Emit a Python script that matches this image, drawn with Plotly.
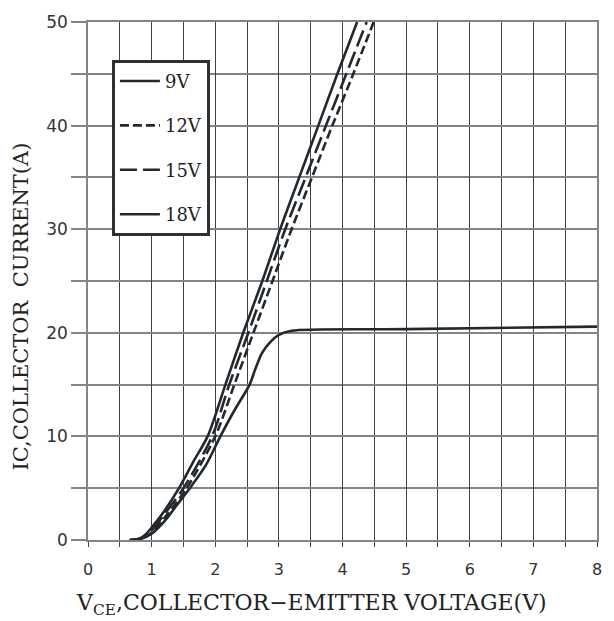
import plotly.graph_objects as go

# ---- data ----
v9_x = [0.66, 0.85, 1.0, 1.2, 1.4, 1.6, 1.85, 2.08, 2.3, 2.54, 2.63, 2.73, 2.85, 3.0, 3.2, 5.0, 8.0]
v9_y = [0.0, 0.15, 0.6, 1.8, 3.4, 5.0, 7.2, 10.0, 12.5, 15.0, 16.5, 18.0, 19.0, 19.8, 20.2, 20.35, 20.6]

v12_x = [0.70, 0.85, 1.0, 1.25, 1.55, 2.0, 2.3, 2.6, 2.9, 3.2, 3.52, 3.84, 4.17, 4.49]
v12_y = [0.0, 0.15, 0.7, 2.5, 5.0, 10.0, 15.0, 20.0, 25.0, 30.0, 35.0, 40.0, 45.0, 50.0]

v15_x = [0.68, 0.85, 1.0, 1.2, 1.5, 1.95, 2.22, 2.52, 2.81, 3.1, 3.42, 3.74, 4.06, 4.38]
v15_y = [0.0, 0.2, 0.9, 2.5, 5.0, 10.0, 15.0, 20.0, 25.0, 30.0, 35.0, 40.0, 45.0, 50.0]

v18_x = [0.65, 0.8, 0.9, 1.0, 1.2, 1.43, 1.65, 1.88, 2.16, 2.44, 2.74, 3.02, 3.32, 3.62, 3.92, 4.23]
v18_y = [0.0, 0.1, 0.5, 1.2, 2.8, 5.0, 7.5, 10.0, 15.0, 20.0, 25.0, 30.0, 35.0, 40.0, 45.0, 50.0]

series_names = ["9V", "12V", "15V", "18V"]

x_tickvals = [0, 1, 2, 3, 4, 5, 6, 7, 8]
x_ticktext = ["0", "1", "2", "3", "4", "5", "6", "7", "8"]
x_minorvals = [0.5, 1.5, 2.5, 3.5, 4.5, 5.5, 6.5, 7.5]
y_tickvals = [0, 10, 20, 30, 40, 50]
y_ticktext = ["0", "10", "20", "30", "40", "50"]
y_minorvals = [5, 15, 25, 35, 45]

x_title = "V<sub>CE</sub>,COLLECTOR\u2212EMITTER VOLTAGE(V)"
y_title = "IC,COLLECTOR  CURRENT(A)"

LINE = "#23282d"
SERIF = "DejaVu Serif, Liberation Serif, serif"
SANS = "DejaVu Sans, Liberation Sans, sans-serif"
VGRID = "#3d4247"
HGRID = "#80858a"

fig = go.Figure()
data = [(v9_x, v9_y, "solid"), (v12_x, v12_y, "9px,4px"),
        (v15_x, v15_y, "17px,6px"), (v18_x, v18_y, "solid")]
for name, (xs, ys, dash) in zip(series_names, data):
    fig.add_trace(go.Scatter(
        x=xs, y=ys, mode="lines", name=name, legendgroup=name,
        line=dict(color=LINE, width=2.6, dash=dash, shape="spline", smoothing=0.8),
    ))

fig.update_layout(
    width=614, height=621,
    margin=dict(l=88, r=13, t=22, b=81),
    paper_bgcolor="white", plot_bgcolor="white",
    showlegend=True,
    legend=dict(
        x=0.047, y=0.927, xanchor="left", yanchor="top",
        bordercolor="#2b3035", borderwidth=3, bgcolor="white",
        font=dict(family=SERIF, size=18, color="#222"),
        tracegroupgap=18, itemwidth=40,
    ),
    annotations=[
        dict(text=x_title, xref="paper", yref="paper",
             x=(313 - 88) / 513, y=-(604 - 540) / 518,
             xanchor="center", yanchor="middle", showarrow=False,
             font=dict(family=SERIF, size=22, color="#222")),
        dict(text=y_title, xref="paper", yref="paper",
             x=(20 - 88) / 513, y=(540 - 307) / 518,
             xanchor="center", yanchor="middle", showarrow=False, textangle=-90,
             font=dict(family=SERIF, size=21, color="#222")),
    ],
)

fig.update_xaxes(
    range=[0, 8], tickvals=x_tickvals, ticktext=x_ticktext,
    showgrid=True, gridcolor=VGRID, gridwidth=1.3,
    ticks="outside", ticklen=5, tickcolor=VGRID, tickwidth=1.3,
    ticklabelstandoff=9,
    minor=dict(tickvals=x_minorvals, ticks="outside", ticklen=5, tickcolor=VGRID,
               tickwidth=1.3, showgrid=True, gridcolor=VGRID, gridwidth=1.3),
    tickfont=dict(family=SANS, size=16, color="#333"),
    showline=True, linecolor=HGRID, linewidth=1.5, mirror=True,
    zeroline=False,
)
fig.update_yaxes(
    range=[0, 50], tickvals=y_tickvals, ticktext=y_ticktext,
    showgrid=True, gridcolor=HGRID, gridwidth=1.5,
    ticks="outside", ticklen=15, tickcolor=HGRID, tickwidth=1.5,
    minor=dict(tickvals=y_minorvals, ticks="outside", ticklen=15, tickcolor=HGRID,
               tickwidth=1.5, showgrid=True, gridcolor=HGRID, gridwidth=1.5),
    tickfont=dict(family=SANS, size=17, color="#333"),
    showline=True, linecolor=HGRID, linewidth=1.5, mirror=True,
    zeroline=False,
)

fig.write_html("out.html")
